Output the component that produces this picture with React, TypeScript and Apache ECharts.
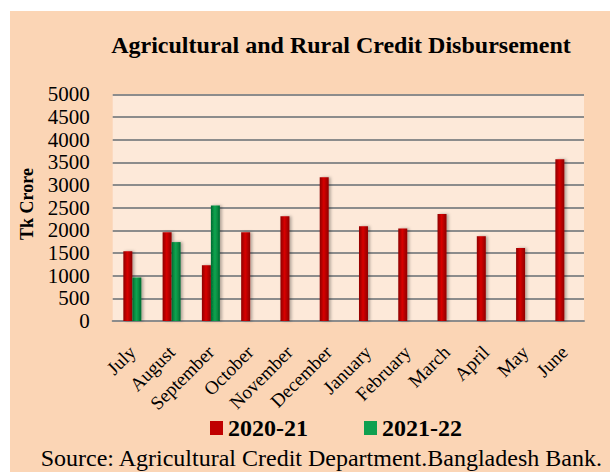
import React, { useEffect, useRef } from "react";
import * as echarts from "echarts";

const months = ["July","August","September","October","November","December","January","February","March","April","May","June"];
const series2020 = [1540, 1960, 1230, 1960, 2310, 3170, 2090, 2040, 2360, 1870, 1610, 3570];
const series2021 = [960, 1740, 2550, null, null, null, null, null, null, null, null, null];
const seriesNames = ["2020-21", "2021-22"];
const titleText = "Agricultural and Rural Credit Disbursement";
const yName = "Tk Crore";
const sourceText = "Source: Agricultural Credit Department.Bangladesh Bank.";

const FONT = "Liberation Serif";

function grad(edge: string, mid: string) {
  return new echarts.graphic.LinearGradient(0, 0, 1, 0, [
    { offset: 0, color: edge },
    { offset: 0.45, color: mid },
    { offset: 1, color: edge },
  ]);
}

export default function App() {
  const ref = useRef<HTMLDivElement>(null);
  useEffect(() => {
    document.body.style.margin = "0";
    const chart = echarts.init(ref.current!, null, { renderer: "svg" });
    chart.setOption({
      animation: false,
      backgroundColor: "#ffffff",
      graphic: [
        { type: "rect", z: -10, shape: { x: 10, y: 11, width: 600, height: 461 }, style: { fill: "#FBD5B5" } },
        { type: "text", z: 10, x: 341, y: 45, style: { text: titleText, fontFamily: FONT, fontSize: 24, fontWeight: "bold", fill: "#000", align: "center", verticalAlign: "middle" } },
        { type: "text", z: 10, x: 27, y: 204, rotation: Math.PI / 2, style: { text: yName, fontFamily: FONT, fontSize: 18, fontWeight: "bold", fill: "#000", align: "center", verticalAlign: "middle" } },
        { type: "text", z: 10, x: 40.7, y: 458, style: { text: sourceText, fontFamily: FONT, fontSize: 24, fill: "#000", align: "left", verticalAlign: "middle" } },
      ],
      grid: { left: 112.7, right: 26, top: 94.3, bottom: 151, show: true, backgroundColor: "#FDE9D9", borderWidth: 0, containLabel: false },
      legend: {
        left: 210, top: 416, padding: 0, itemWidth: 13, itemHeight: 14, itemGap: 56, icon: "rect",
        textStyle: { fontSize: 24, fontWeight: "bold", fontFamily: FONT, color: "#000" },
        data: [
          { name: seriesNames[0], itemStyle: { color: "#C00000" } },
          { name: seriesNames[1], itemStyle: { color: "#0FA050" } },
        ],
      },
      xAxis: {
        type: "category",
        data: months,
        axisLine: { show: true, lineStyle: { color: "#8C8C8C", width: 2 } },
        axisTick: { show: false },
        axisLabel: { interval: 0, rotate: 45, margin: 28, fontSize: 19, fontFamily: FONT, color: "#000" },
      },
      yAxis: {
        type: "value",
        min: 0, max: 5000, interval: 500,
        axisLine: { show: false },
        axisTick: { show: false },
        axisLabel: { fontSize: 21, fontFamily: FONT, color: "#000", margin: 23, formatter: (v: number) => String(v) },
        splitLine: { show: true, lineStyle: { color: "#8C8C8C", width: 2 } },
      },
      series: [
        {
          name: seriesNames[0], type: "bar", data: series2020, barWidth: 9, barGap: "0%",
          itemStyle: { color: grad("#8E0000", "#D80000"), shadowColor: "rgba(0,0,0,0.3)", shadowBlur: 3, shadowOffsetX: 2 },
        },
        {
          name: seriesNames[1], type: "bar", data: series2021, barWidth: 9, barGap: "0%",
          itemStyle: { color: grad("#006A30", "#10A650"), shadowColor: "rgba(0,0,0,0.3)", shadowBlur: 3, shadowOffsetX: 2 },
        },
      ],
    });
    return () => chart.dispose();
  }, []);
  return <div ref={ref} style={{ width: 610, height: 472 }} />;
}
